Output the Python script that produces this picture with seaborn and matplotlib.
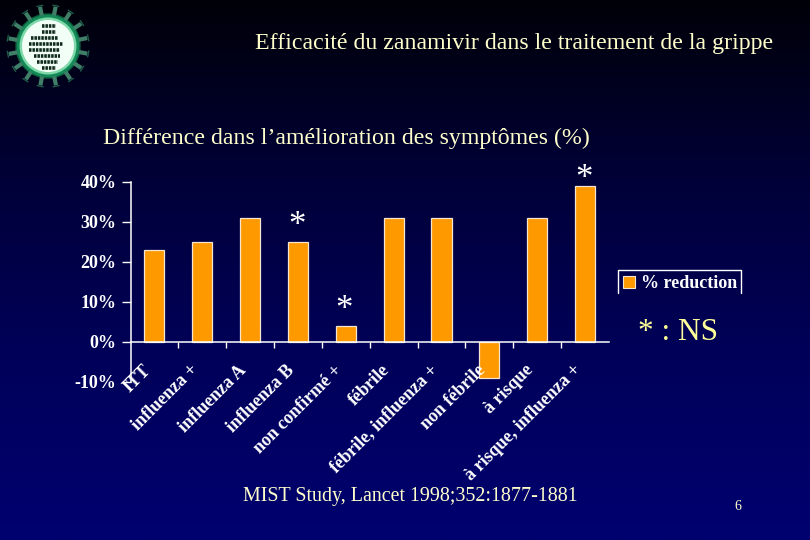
import numpy as np
import pandas as pd
import matplotlib
matplotlib.use("Agg")
import matplotlib.pyplot as plt
from matplotlib.lines import Line2D
from matplotlib.patches import Circle, Rectangle
from matplotlib.colors import LinearSegmentedColormap
from matplotlib.transforms import ScaledTranslation
import seaborn as sns

categories = ["ITT", "influenza +", "influenza A", "influenza B", "non confirmé +",
              "fébrile", "fébrile, influenza +", "non fébrile", "à risque",
              "à risque, influenza +"]
reduction = [23, 25, 31, 25, 4, 31, 31, -9, 31, 39]
significance_marks = [3, 4, 9]
y_ticks = [-10, 0, 10, 20, 30, 40]
series_name = "% reduction"

W, H = 810, 540
ORANGE = "#FF9900"
PALE = "#FFFFCC"
YELLOW = "#FFFF99"
SERIF = "Liberation Serif"

sns.set_theme(style="white", rc={"font.family": SERIF})
fig = plt.figure(figsize=(W / 100, H / 100), dpi=100)

def rect(x0, y0, x1, y1):
    return [x0 / W, 1 - y1 / H, (x1 - x0) / W, (y1 - y0) / H]

# background gradient
bg = fig.add_axes([0, 0, 1, 1], zorder=0)
cmap = LinearSegmentedColormap.from_list("bg", ["#000008", "#000038", "#00005A", "#000070"])
bg.imshow(np.linspace(0, 1, 256).reshape(-1, 1), aspect="auto", cmap=cmap, extent=(0, W, H, 0))
bg.set_xlim(0, W); bg.set_ylim(H, 0); bg.axis("off")

# virus logo (decoration)
cx, cy = 48, 46
for a in np.arange(0, 360, 22.5):
    t = np.radians(a + 11)
    bg.plot([cx + 31 * np.cos(t), cx + 40 * np.cos(t)], [cy + 31 * np.sin(t), cy + 40 * np.sin(t)],
            color="#3F7F68", lw=3, solid_capstyle="butt")
    n = np.array([-np.sin(t), np.cos(t)])
    p = np.array([cx + 41 * np.cos(t), cy + 41 * np.sin(t)])
    bg.plot([p[0] - 3 * n[0], p[0] + 3 * n[0]], [p[1] - 3 * n[1], p[1] + 3 * n[1]], color="#1F5A48", lw=1)
bg.add_patch(Circle((cx, cy), 32, fc="#138A58", ec="#0A5C3A", lw=1))
bg.add_patch(Circle((cx, cy), 28.5, fc="#7FD9A8", ec="none"))
bg.add_patch(Circle((cx, cy), 26, fc="#F2FFF6", ec="none"))
for ry, left, right in zip(range(26, 69, 6), [42, 42, 31, 29, 29, 34, 37, 42], [56, 56, 58, 63, 60, 60, 58, 56]):
    bg.plot([left, right], [ry, ry], color="#102A1C", lw=2.6, ls=(0, (0.7, 0.25)))

# chart
ax = fig.add_axes(rect(130.5, 182, 609, 382), zorder=2)
ax.patch.set_alpha(0)
df = pd.DataFrame({"groupe": categories, "valeur": reduction, "serie": series_name})
sns.barplot(data=df, x="groupe", y="valeur", hue="serie", palette=[ORANGE], width=0.42,
            edgecolor="#F4E6D0", linewidth=0.9, ax=ax, legend=False, dodge=False, saturation=1)
ax.set_axisbelow(False)
ax.set_xlim(-0.5, len(categories) - 0.5)
ax.set_ylim(-10, 40)
ax.set_xlabel(""); ax.set_ylabel("")
for side in ("top", "right"):
    ax.spines[side].set_visible(False)
for side in ("left", "bottom"):
    ax.spines[side].set_color("white")
    ax.spines[side].set_linewidth(1.1)
ax.spines["bottom"].set_position(("data", 0))
ax.set_yticks(y_ticks, [f"{v}%" for v in y_ticks], fontsize=13, fontweight="bold", color="white")
ax.tick_params(axis="y", left=True, length=6.5, width=1, color="white", pad=3.5)
ax.set_xticks(range(len(categories)))
ax.set_xticklabels(categories, rotation=45, ha="right", va="top", rotation_mode="anchor",
                   fontsize=13, fontweight="bold", color="white")
ax.tick_params(axis="x", which="major", bottom=False, length=0, pad=14)
ax.set_xticks(np.arange(0.5, len(categories) - 1), minor=True)
ax.tick_params(axis="x", which="minor", bottom=True, length=4.5, width=1, color="white")
shift = ScaledTranslation(-9 / 72, 0, fig.dpi_scale_trans)
for lab in ax.get_xticklabels():
    lab.set_transform(lab.get_transform() + shift)
    lab.set_zorder(5)
star_offsets = [-1, -1, -7.5]
for i, off in zip(significance_marks, star_offsets):
    ax.annotate("*", (i, reduction[i]), xytext=(-1, off), textcoords="offset points", ha="center", va="bottom",
                fontsize=25, color="white", family=SERIF)

# legend with open bottom
lx0, lx1, ly0, ly1 = 617.5, 741, 270, 293
bg.add_line(Line2D([lx0, lx0, lx1, lx1], [ly1, ly0, ly0, ly1], color="white", lw=1))
handle = Rectangle((0, 0), 1, 1, fc=ORANGE, ec="#F4E6D0", lw=0.8)
fig.legend([handle], [series_name], loc="center left", bbox_to_anchor=(623 / W, 1 - 284 / H),
           frameon=False, handlelength=0.67, handleheight=0.67, handletextpad=0.3,
           borderpad=0, borderaxespad=0, prop={"family": SERIF, "weight": "bold", "size": 13},
           labelcolor="white")

# slide text
txt = dict(family=SERIF, transform=bg.transData, zorder=6)
bg.text(514, 44, "Efficacité du zanamivir dans le traitement de la grippe", ha="center", va="center",
        fontsize=17.2, color=PALE, **txt)
bg.text(346.5, 138, "Différence dans l’amélioration des symptômes (%)", ha="center", va="center",
        fontsize=17.2, color=PALE, **txt)
bg.text(678.5, 333, "* : NS", ha="center", va="center", fontsize=22.5, color=YELLOW, **txt)
bg.text(410, 496, "MIST Study, Lancet 1998;352:1877-1881", ha="center", va="center",
        fontsize=14.4, color=PALE, **txt)
bg.text(738, 506, "6", ha="center", va="center", fontsize=10, color=PALE, **txt)

fig.savefig("out.png", dpi=100, facecolor="black")
